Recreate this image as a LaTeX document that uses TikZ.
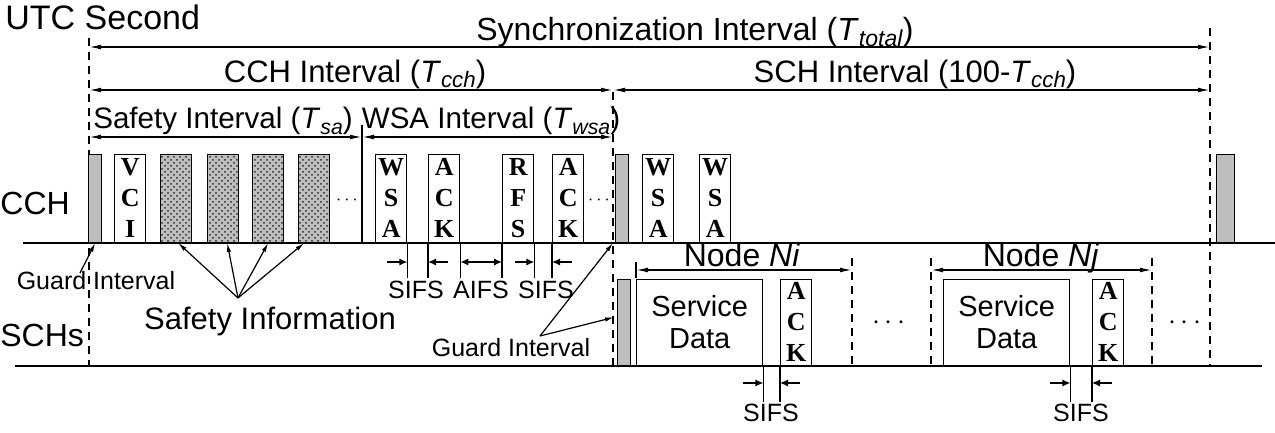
\documentclass[tikz,border=0pt]{standalone}
\usepackage{fontspec}
\setmainfont{Liberation Sans}
\newfontfamily\ltrfont{Liberation Serif}
\usetikzlibrary{
    arrows.meta,
    patterns,
    positioning
}
\definecolor{Cguard}{RGB}{190, 190, 190}
\definecolor{Chatch}{RGB}{40, 40, 40}
\newcommand\tsub[2]{\textit{#1}\raisebox{-0.35ex}{\scalebox{0.72}{\textit{#2}}}}
\tikzset{
    tbox/.style={
        rectangle, draw, line width=0.7pt, inner sep=0pt, anchor=south west,
        minimum width=15.5pt, minimum height=44pt
    },
    ltr/.style={tbox, align=center, font=\fontsize{13}{15.5}\selectfont\ltrfont\bfseries},
    hatch/.style={tbox, fill=black!25, postaction={pattern=crosshatch dots, pattern color=Chatch}},
    guard/.style={tbox, minimum width=6.5pt, fill=Cguard},
    sdata/.style={tbox, minimum width=63pt, minimum height=43pt, align=center,
        font=\fontsize{14.5}{16}\selectfont},
    dim/.style={{Latex[length=6pt, width=2.4pt]}-{Latex[length=6pt, width=2.4pt]}, line width=0.7pt},
    bound/.style={line width=0.7pt, dash pattern=on 4pt off 3pt},
    chan/.style={line width=1pt},
    tick/.style={line width=0.7pt},
    sifs/.style={-{Latex[length=4pt, width=3.6pt]}, line width=0.7pt},
    sifsb/.style={{Latex[length=4pt, width=3.6pt]}-{Latex[length=4pt, width=3.6pt]}, line width=0.7pt},
    callout/.style={-{Latex[length=4.5pt, width=2.2pt]}, line width=0.6pt},
    biglbl/.style={font=\fontsize{16}{18}\selectfont, inner sep=0pt},
    midlbl/.style={font=\fontsize{15.5}{17}\selectfont, inner sep=0pt},
    smllbl/.style={font=\fontsize{12.5}{14}\selectfont, inner sep=0pt},
}

\begin{document}
\begin{tikzpicture}[x=0.5pt, y=-0.5pt]
    \useasboundingbox (0,0) rectangle (1275,433);

    \node [biglbl, font=\fontsize{17}{19}\selectfont, anchor=west] (utc) at (5,17) {UTC Second};
    \node [biglbl] (sync) at (695,32) {Synchronization Interval (\tsub{T}{total})};
    \node [midlbl] (cchi) at (355,74) {CCH Interval (\tsub{T}{cch})};
    \node [midlbl] (schi) at (915,74) {SCH Interval (100-\tsub{T}{cch})};
    \node [midlbl, font=\fontsize{14.8}{17}\selectfont] (safi) at (223,121) {Safety Interval (\tsub{T}{sa})};
    \node [midlbl, font=\fontsize{14.8}{17}\selectfont] (wsai) at (491,121) {WSA Interval (\tsub{T}{wsa})};

    \coordinate (l0) at (89,38);   \coordinate (l1) at (89,366);
    \coordinate (r0) at (1210,28); \coordinate (r1) at (1210,366);
    \coordinate (m0) at (613,92);  \coordinate (m1) at (613,366);
    \coordinate (s0) at (362,125); \coordinate (s1) at (362,243);
    \draw [bound] (l0) -- (l1);
    \draw [bound] (r0) -- (r1);
    \draw [bound] (m0) -- (m1);
    \draw [tick] (s0) -- (s1);

    \coordinate (a1) at (89,47);  \coordinate (a2) at (1210,47);
    \coordinate (b1) at (89,90);  \coordinate (b2) at (613,90);  \coordinate (b3) at (1210,90);
    \coordinate (c1) at (89,137); \coordinate (c2) at (362,137); \coordinate (c3) at (613,137);
    \draw [dim] (a1) -- (a2);
    \draw [dim] (b1) -- (b2);
    \draw [dim] (b2) -- (b3);
    \draw [dim] (c1) -- (c2);
    \draw [dim] (c2) -- (c3);

    \coordinate (cchL) at (23,243);  \coordinate (cchR) at (1275,243);
    \coordinate (schL) at (15,366);  \coordinate (schR) at (1262,366);
    \draw [chan] (cchL) -- (cchR);
    \draw [chan] (schL) -- (schR);
    \node [biglbl, anchor=west] (cch) at (0,203) {CCH};
    \node [biglbl, anchor=west] (schs) at (0,335) {SCHs};

    \node [guard] (gd1) at (88,243) {};
    \node [ltr] (vci) at (114,243) {V\\C\\I};
    \node [hatch] (sf1) at (160,243) {};
    \node [hatch] (sf2) at (207,243) {};
    \node [hatch] (sf3) at (252,243) {};
    \node [hatch] (sf4) at (298,243) {};
    \node [font=\fontsize{9}{10}\selectfont] (dt1) at (347,200) {$\cdots$};
    \node [ltr] (wsa1) at (375,243) {W\\S\\A};
    \node [ltr] (ack1) at (428,243) {A\\C\\K};
    \node [ltr] (rfs) at (502,243) {R\\F\\S};
    \node [ltr] (ack2) at (552,243) {A\\C\\K};
    \node [font=\fontsize{9}{10}\selectfont] (dt2) at (599,200) {$\cdots$};
    \node [guard] (gd2) at (615,243) {};
    \node [ltr] (wsa2) at (642,243) {W\\S\\A};
    \node [ltr] (wsa3) at (699,243) {W\\S\\A};
    \node [guard, minimum width=9pt] (gd3) at (1216,243) {};

    \draw [tick] (wsa1.south east) -- ++(0,35);
    \draw [tick] (ack1.south west) -- ++(0,35);
    \draw [tick] (ack1.south east) -- ++(0,35);
    \draw [tick] (rfs.south west) -- ++(0,35);
    \draw [tick] (rfs.south east) -- ++(0,35);
    \draw [tick] (ack2.south west) -- ++(0,35);
    \draw [sifs] ([shift={(-20,19)}]wsa1.south east) -- ([shift={(0,19)}]wsa1.south east);
    \draw [sifs] ([shift={(20,19)}]ack1.south west) -- ([shift={(0,19)}]ack1.south west);
    \draw [sifsb] ([shift={(0,19)}]ack1.south east) -- ([shift={(0,19)}]rfs.south west);
    \draw [sifs] ([shift={(-19,19)}]rfs.south east) -- ([shift={(0,19)}]rfs.south east);
    \draw [sifs] ([shift={(20,19)}]ack2.south west) -- ([shift={(0,19)}]ack2.south west);
    \node [smllbl] (sifs1) at (416,290) {SIFS};
    \node [smllbl] (aifs) at (481,290) {AIFS};
    \node [smllbl] (sifs2) at (546,290) {SIFS};

    \node [guard, minimum height=43pt] (gd4) at (617,366) {};
    \node [sdata] (sd1) at (636,366) {Service\\Data};
    \node [ltr, minimum height=43pt] (sack1) at (780,366) {A\\C\\K};
    \node [font=\fontsize{15}{17}\selectfont] (dt3) at (889,323) {$\cdots$};
    \node [sdata] (sd2) at (943,366) {Service\\Data};
    \node [ltr, minimum height=43pt] (sack2) at (1092,366) {A\\C\\K};
    \node [font=\fontsize{15}{17}\selectfont] (dt4) at (1185,323) {$\cdots$};

    \coordinate (ni0) at (636,270); \coordinate (ni1) at (852,270);
    \coordinate (nj0) at (931,270); \coordinate (nj1) at (1152,270);
    \draw [tick] (636,262) -- (636,278);
    \draw [bound] (852,258) -- (852,366);
    \draw [bound] (931,258) -- (931,366);
    \draw [bound] (1152,258) -- (1152,366);
    \draw [dim] (ni0) -- (ni1);
    \draw [dim] (nj0) -- (nj1);
    \node [biglbl, anchor=base] (nni) at (742,266) {Node \textit{Ni}};
    \node [biglbl, anchor=base] (nnj) at (1041,266) {Node \textit{Nj}};

    \draw [tick] (sd1.south east) -- ++(0,36);
    \draw [tick] (sack1.south west) -- ++(0,36);
    \draw [tick] (sd2.south east) -- ++(0,36);
    \draw [tick] (sack2.south west) -- ++(0,36);
    \draw [sifs] ([shift={(-20,17)}]sd1.south east) -- ([shift={(0,17)}]sd1.south east);
    \draw [sifs] ([shift={(20,17)}]sack1.south west) -- ([shift={(0,17)}]sack1.south west);
    \draw [sifs] ([shift={(-20,17)}]sd2.south east) -- ([shift={(0,17)}]sd2.south east);
    \draw [sifs] ([shift={(20,17)}]sack2.south west) -- ([shift={(0,17)}]sack2.south west);
    \node [smllbl] (sifs3) at (771,413) {SIFS};
    \node [smllbl] (sifs4) at (1081,413) {SIFS};

    \node [smllbl] (gtxt1) at (96,281) {Guard Interval};
    \coordinate (gihub1) at (80,273);
    \draw [callout] (gihub1) -- (gd1.south);

    \node [midlbl] (sinfo) at (270,321) {Safety Information};
    \coordinate (sihub) at (238,298);
    \draw [callout] (sihub) -- ([xshift=1pt]sf1.south);
    \draw [callout] (sihub) -- ([xshift=2pt]sf2.south);
    \draw [callout] (sihub) -- (sf3.south);
    \draw [callout] (sihub) -- ([xshift=-5pt]sf4.south);

    \node [smllbl] (gtxt2) at (511,348) {Guard Interval};
    \coordinate (gihub2) at (540,336);
    \draw [callout] (gihub2) -- ([xshift=-1pt]gd2.south west);
    \draw [callout] (gihub2) -- ([shift={(-3,-5)}]gd4.west);

\end{tikzpicture}
\end{document}
